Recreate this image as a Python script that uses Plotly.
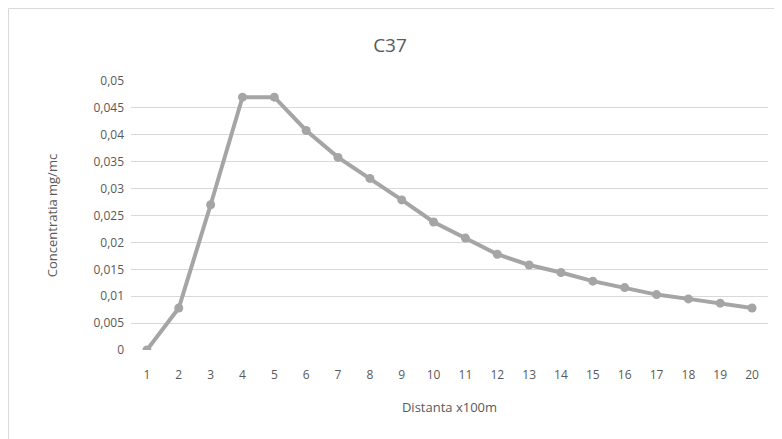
import plotly.graph_objects as go

distance = list(range(1, 21))
concentration = [0, 0.0078, 0.027, 0.047, 0.047, 0.0408, 0.0358, 0.0319, 0.0279, 0.0238,
                 0.0208, 0.0178, 0.0158, 0.0144, 0.0128, 0.0116, 0.0103, 0.0095, 0.0087, 0.0078]
y_ticks = [0, 0.005, 0.01, 0.015, 0.02, 0.025, 0.03, 0.035, 0.04, 0.045, 0.05]
y_ticklabels = ["0", "0,005", "0,01", "0,015", "0,02", "0,025", "0,03", "0,035", "0,04", "0,045", "0,05"]

# page has an 8px body margin
W, H = 774, 431
L, R, T, B = 123, 14, 73, 89
pw, ph = W - L - R, H - T - B

fig = go.Figure(go.Scatter(
    x=distance, y=concentration, mode="lines+markers",
    line=dict(color="#a5a5a5", width=4),
    marker=dict(color="#a5a5a5", size=9),
))

fig.update_layout(
    width=W, height=H,
    margin=dict(l=L, r=R, t=T, b=B, autoexpand=False),
    paper_bgcolor="white", plot_bgcolor="white",
    font=dict(family="Open Sans", color="#595959", size=12),
    showlegend=False,
    title=dict(text="C37", x=(390 - 8) / W, xanchor="center", y=1 - 37 / H, yanchor="middle",
               font=dict(size=19, color="#595959")),
    xaxis=dict(range=[0.5, 20.5], tickmode="array", tickvals=distance,
               ticktext=[str(d) for d in distance], showgrid=False, zeroline=False,
               showline=False, ticks="", automargin=False, ticklabelstandoff=16,
               title=dict(text="Distanta x100m", font=dict(size=13, color="#595959"), standoff=20)),
    yaxis=dict(range=[0, 0.05], tickmode="array", tickvals=y_ticks, ticktext=y_ticklabels,
               showgrid=True, gridcolor="#d9d9d9", gridwidth=1, zeroline=False,
               showline=False, ticks="", ticklabelstandoff=6, automargin=False,
               title=dict(text="Concentratia mg/mc", font=dict(size=13, color="#595959"), standoff=32)),
)

fig.add_shape(type="rect", xref="paper", yref="paper",
              x0=(0.5 - L) / pw, x1=(W + 5 - L) / pw,
              y0=-(H + 5 - T - ph) / ph, y1=1 + (T - 0.5) / ph,
              line=dict(color="#d9d9d9", width=1), fillcolor="rgba(0,0,0,0)", layer="below")

fig.write_html("out.html")
